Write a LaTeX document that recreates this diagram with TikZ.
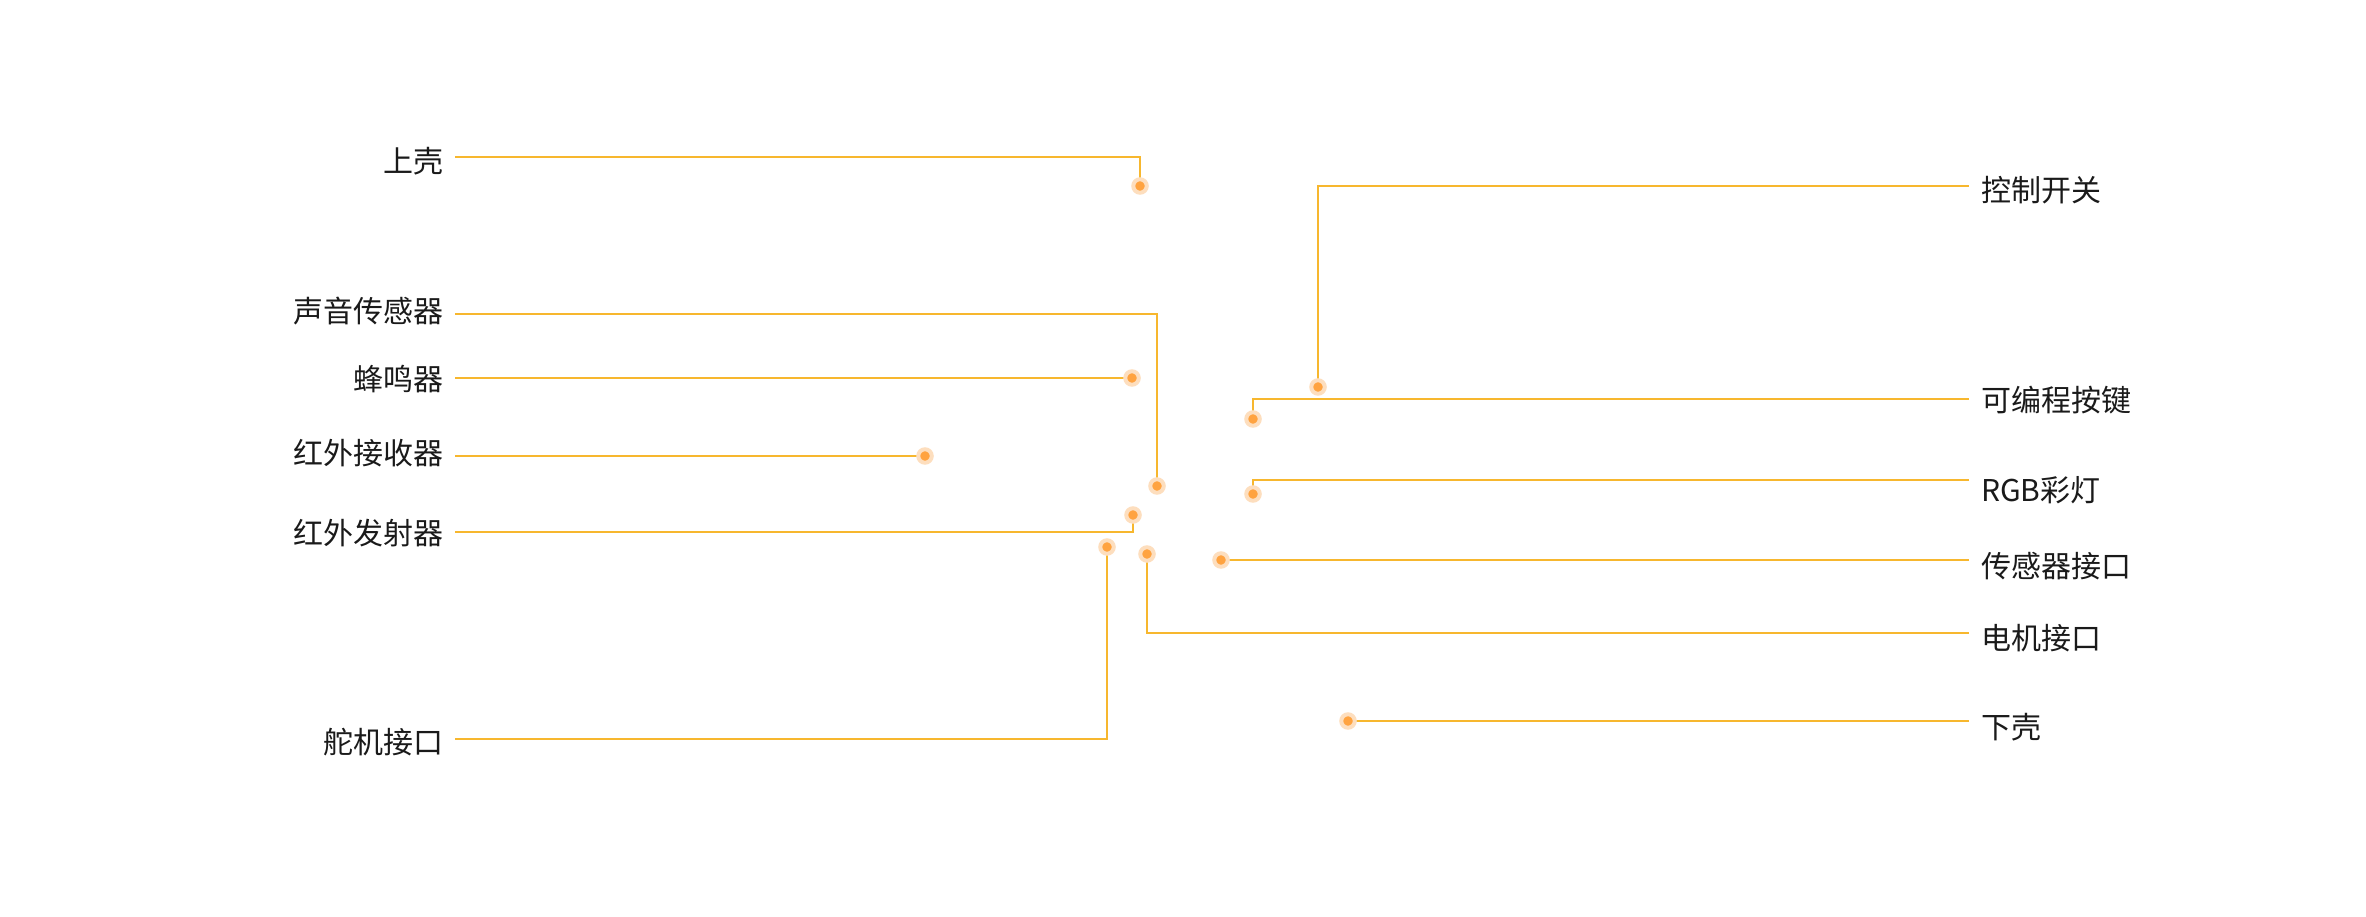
\documentclass[tikz,border=0pt]{standalone}
\usepackage{fontspec}
\setmainfont{Noto Sans CJK SC}
\usepackage{xcolor}
\usepackage{tikz}
\usetikzlibrary{positioning,calc}
\definecolor{leadorange}{RGB}{247,183,46}
\definecolor{dotorange}{RGB}{255,163,64}
\definecolor{haloorange}{RGB}{253,222,190}
\definecolor{labelgray}{RGB}{26,26,26}
% lower the printed text without moving the node box
\newcommand{\dropby}[2]{\raisebox{-#1}[\height][\depth]{#2}}
\tikzset{
  partlabel/.style={
    text=labelgray,
    inner sep=0pt,
    outer xsep=12pt,
    font=\fontsize{30}{36}\selectfont
  },
  leftlabel/.style={partlabel, anchor=east},
  rightlabel/.style={partlabel, anchor=west},
  partdot/.style={
    circle,
    fill=dotorange,
    draw=haloorange,
    line width=4pt,
    minimum size=13.5pt,
    inner sep=0pt
  },
  leadline/.style={
    draw=leadorange,
    line width=1.4pt
  }
}

\begin{document}
\begin{tikzpicture}[x=1pt,y=-1pt]
  \useasboundingbox (0,0) rectangle (2366,917);

  % left side
  \node[leftlabel] (shellTop) at (455,157) {\dropby{4pt}{上壳}};
  \node[leftlabel] (soundSensor) at (455,314) {\dropby{-3pt}{声音传感器}};
  \node[leftlabel] (buzzer) at (455,378) {\dropby{1pt}{蜂鸣器}};
  \node[leftlabel] (irReceiver) at (455,456) {\dropby{-3pt}{红外接收器}};
  \node[leftlabel] (irEmitter) at (455,532) {\dropby{1pt}{红外发射器}};
  \node[leftlabel] (servoPort) at (455,739) {\dropby{3pt}{舵机接口}};

  % right side
  \node[rightlabel] (ctrlSwitch) at (1969,186) {\dropby{4pt}{控制开关}};
  \node[rightlabel] (progKey) at (1969,399) {\dropby{1pt}{可编程按键}};
  \node[rightlabel] (rgbLight) at (1969,480) {\dropby{10pt}{RGB彩灯}};
  \node[rightlabel] (sensorPort) at (1969,560) {\dropby{6pt}{传感器接口}};
  \node[rightlabel] (motorPort) at (1969,633) {\dropby{5pt}{电机接口}};
  \node[rightlabel] (shellBottom) at (1969,721) {\dropby{6pt}{下壳}};

  % points on the robot
  \coordinate (shellTop-dot) at (1140,186);
  \coordinate (soundSensor-dot) at (1157,486);
  \coordinate (buzzer-dot) at (1132,378);
  \coordinate (irReceiver-dot) at (925,456);
  \coordinate (irEmitter-dot) at (1133,515);
  \coordinate (servoPort-dot) at (1107,547);
  \coordinate (ctrlSwitch-dot) at (1318,387);
  \coordinate (progKey-dot) at (1253,419);
  \coordinate (rgbLight-dot) at (1253,494);
  \coordinate (sensorPort-dot) at (1221,560);
  \coordinate (motorPort-dot) at (1147,554);
  \coordinate (shellBottom-dot) at (1348,721);

  \foreach \part in {shellTop,soundSensor,buzzer,irReceiver,irEmitter,servoPort,
                     ctrlSwitch,progKey,rgbLight,sensorPort,motorPort,shellBottom}{
    \draw[leadline] (\part) -| (\part-dot);
    \node[partdot] (\part-mark) at (\part-dot) {};
  }
\end{tikzpicture}
\end{document}
